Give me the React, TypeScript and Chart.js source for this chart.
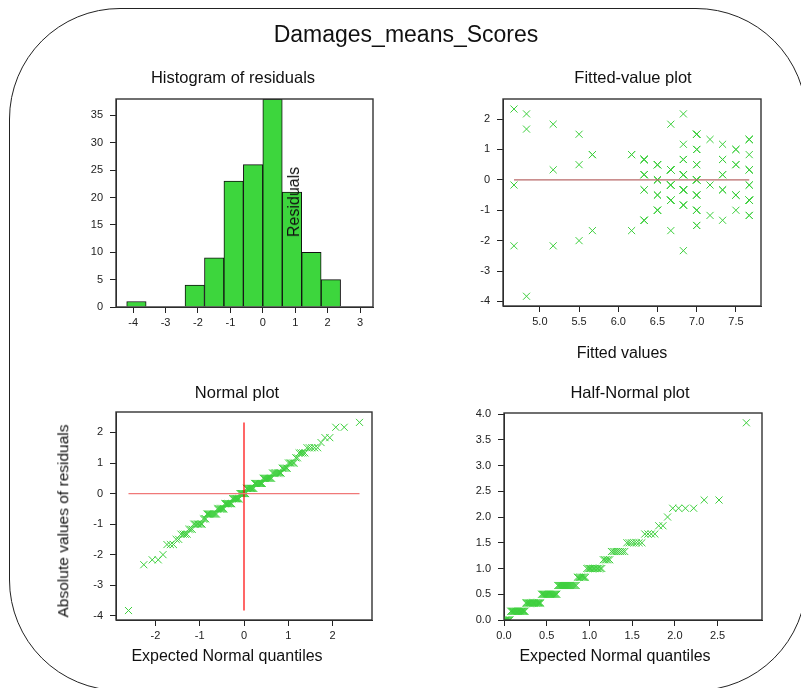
import React, { useEffect, useRef } from "react";
import { Chart, registerables } from "chart.js";
Chart.register(...registerables);

const CHART_TITLE = "Damages_means_Scores";

// ---- Histogram of residuals ----
const histBinCenters = [-3.9, -2.1, -1.5, -0.9, -0.3, 0.3, 0.9, 1.5, 2.1];
const histCounts = [1, 4, 9, 23, 26, 38, 21, 10, 5];
const histXTicks = [-4, -3, -2, -1, 0, 1, 2, 3];
const histYTicks = [0, 5, 10, 15, 20, 25, 30, 35];

// ---- Fitted values / residuals (distinct points with multiplicity) ----
const pointFitted = [
  4.67, 4.83, 6.83, 5.17, 6.67, 4.83, 5.5, 7.0, 7.17, 7.67, 6.83, 7.33, 7.0, 7.5,
  5.67, 6.17, 7.67, 6.33, 6.83, 7.33, 5.5, 6.5, 7.0, 7.5, 5.17, 6.67, 7.67, 6.33,
  6.83, 7.33, 6.5, 7.0, 4.67, 6.67, 7.17, 7.67, 6.33, 6.83, 7.33, 6.5, 7.0, 7.5,
  6.67, 7.67, 6.83, 6.5, 7.0, 7.5, 7.17, 7.67, 6.33, 7.33, 7.0, 5.67, 6.17, 6.67,
  5.5, 4.67, 5.17, 6.83, 4.83,
];
const pointResidual = [
  2.33, 2.17, 2.17, 1.83, 1.83, 1.67, 1.5, 1.5, 1.33, 1.33, 1.17, 1.17, 1.0, 1.0,
  0.83, 0.83, 0.83, 0.67, 0.67, 0.67, 0.5, 0.5, 0.5, 0.5, 0.33, 0.33, 0.33, 0.17,
  0.17, 0.17, 0, 0, -0.17, -0.17, -0.17, -0.17, -0.33, -0.33, -0.33, -0.5, -0.5, -0.5,
  -0.67, -0.67, -0.83, -1.0, -1.0, -1.0, -1.17, -1.17, -1.33, -1.33, -1.5, -1.67, -1.67, -1.67,
  -2.0, -2.17, -2.17, -2.33, -3.83,
];
const pointCount = [
  1, 1, 1, 1, 1, 1, 1, 4, 1, 3, 1, 1, 3, 2,
  2, 2, 1, 4, 3, 2, 1, 5, 2, 2, 1, 6, 3, 3,
  5, 2, 3, 5, 1, 5, 1, 2, 2, 5, 2, 2, 3, 3,
  5, 5, 3, 3, 3, 1, 1, 2, 3, 1, 2, 1, 1, 1,
  1, 1, 1, 1, 1,
];
const fittedXTicks = [5.0, 5.5, 6.0, 6.5, 7.0, 7.5];
const residYTicks = [-4, -3, -2, -1, 0, 1, 2];
const normalXTicks = [-2, -1, 0, 1, 2];
const halfXTicks = [0, 0.5, 1.0, 1.5, 2.0, 2.5];
const halfYTicks = [0, 0.5, 1.0, 1.5, 2.0, 2.5, 3.0, 3.5, 4.0];

const W = 801;
const H = 688;
const FONT = "'Liberation Sans', Arial, Helvetica, sans-serif";
const GREEN = "#3dcf3d";
const BAR_GREEN = "#3dd63d";
const YW = 40;
const XH = 26;

// inverse standard normal CDF (Acklam)
function invNorm(p: number): number {
  const a = [-39.69683028665376, 220.9460984245205, -275.9285104469687, 138.357751867269, -30.66479806614716, 2.506628277459239];
  const b = [-54.47609879822406, 161.5858368580409, -155.6989798598866, 66.80131188771972, -13.28068155288572];
  const c = [-0.007784894002430293, -0.3223964580411365, -2.400758277161838, -2.549732539343734, 4.374664141464968, 2.938163982698783];
  const d = [0.007784695709041462, 0.3224671290700398, 2.445134137142996, 3.754408661907416];
  const pl = 0.02425;
  if (p < pl) {
    const q = Math.sqrt(-2 * Math.log(p));
    return (((((c[0] * q + c[1]) * q + c[2]) * q + c[3]) * q + c[4]) * q + c[5]) / ((((d[0] * q + d[1]) * q + d[2]) * q + d[3]) * q + 1);
  }
  if (p <= 1 - pl) {
    const q = p - 0.5;
    const r = q * q;
    return ((((((a[0] * r + a[1]) * r + a[2]) * r + a[3]) * r + a[4]) * r + a[5]) * q) / (((((b[0] * r + b[1]) * r + b[2]) * r + b[3]) * r + b[4]) * r + 1);
  }
  const q = Math.sqrt(-2 * Math.log(1 - p));
  return -(((((c[0] * q + c[1]) * q + c[2]) * q + c[3]) * q + c[4]) * q + c[5]) / ((((d[0] * q + d[1]) * q + d[2]) * q + d[3]) * q + 1);
}

type Frame = { l: number; t: number; r: number; b: number };
const histFrame: Frame = { l: 116, t: 99, r: 373, b: 307 };
const fittedFrame: Frame = { l: 503, t: 99, r: 761, b: 306 };
const normalFrame: Frame = { l: 116, t: 412, r: 372, b: 620 };
const halfFrame: Frame = { l: 504, t: 413, r: 762, b: 620 };

const framePlugin = {
  id: "frame",
  afterDraw(chart: any) {
    const { ctx, chartArea: a } = chart;
    ctx.save();
    ctx.strokeStyle = "#333";
    ctx.lineWidth = 1.4;
    ctx.strokeRect(a.left, a.top, a.right - a.left, a.bottom - a.top);
    ctx.restore();
  },
};

function axis(kind: "x" | "y", min: number, max: number, values: number[], digits: number) {
  return {
    type: "linear",
    position: kind === "x" ? "bottom" : "left",
    min,
    max,
    offset: false,
    afterBuildTicks: (s: any) => {
      s.ticks = values.map((v) => ({ value: v }));
    },
    afterFit: (s: any) => {
      if (kind === "x") s.height = XH;
      else s.width = YW;
    },
    ticks: {
      callback: (v: any) => Number(v).toFixed(digits),
      font: { family: FONT, size: 11 },
      color: "#222",
      padding: kind === "x" ? 3 : 7,
      autoSkip: false,
      maxRotation: 0,
      minRotation: 0,
    },
    grid: {
      display: true,
      drawOnChartArea: false,
      drawTicks: true,
      tickLength: 6,
      color: "#222",
      lineWidth: 1,
      offset: false,
    },
    border: { display: true, color: "#222", width: 1 },
  };
}

function layoutFor(f: Frame) {
  return {
    padding: { left: f.l - YW, top: f.t, right: W - f.r, bottom: H - f.b - XH },
  };
}

const baseOpts = {
  responsive: false,
  animation: false,
  events: [],
  plugins: { legend: { display: false }, tooltip: { enabled: false }, title: { display: false } },
};

function expandPoints() {
  const pts: { x: number; y: number }[] = [];
  pointFitted.forEach((fx, i) => {
    for (let k = 0; k < pointCount[i]; k++) pts.push({ x: fx, y: pointResidual[i] });
  });
  return pts;
}

function crossDataset(data: { x: number; y: number }[]) {
  return {
    data,
    showLine: false,
    pointStyle: "crossRot",
    pointRadius: 5,
    pointBorderColor: GREEN,
    pointBackgroundColor: "rgba(0,0,0,0)",
    pointBorderWidth: 1,
    order: 2,
  };
}

function lineDataset(data: { x: number; y: number }[], color: string) {
  return {
    data,
    showLine: true,
    borderColor: color,
    borderWidth: 1.2,
    pointRadius: 0,
    fill: false,
    order: 0,
  };
}

const Text: React.FC<{ x: number; y: number; size: number; rotate?: boolean; children: React.ReactNode }> = ({ x, y, size, rotate, children }) => (
  <div
    style={{
      position: "absolute",
      left: x,
      top: y,
      transform: `translate(-50%, -50%)${rotate ? " rotate(-90deg)" : ""}`,
      fontFamily: FONT,
      fontSize: size,
      lineHeight: 1,
      whiteSpace: "nowrap",
      color: "#111",
      pointerEvents: "none",
    }}
  >
    {children}
  </div>
);

export default function App() {
  const r1 = useRef<HTMLCanvasElement>(null);
  const r2 = useRef<HTMLCanvasElement>(null);
  const r3 = useRef<HTMLCanvasElement>(null);
  const r4 = useRef<HTMLCanvasElement>(null);

  useEffect(() => {
    const charts: Chart[] = [];

    // Histogram
    charts.push(
      new Chart(r1.current!, {
        type: "bar",
        data: {
          datasets: [
            {
              data: histBinCenters.map((c, i) => ({ x: c, y: histCounts[i] })),
              backgroundColor: BAR_GREEN,
              borderColor: "#111",
              borderWidth: 1,
              barPercentage: 1,
              categoryPercentage: 1,
            } as any,
          ],
        },
        options: {
          ...baseOpts,
          layout: layoutFor(histFrame),
          scales: {
            x: axis("x", -4.53, 3.4, histXTicks, 0),
            y: axis("y", 0, 38, histYTicks, 0),
          },
        } as any,
        plugins: [framePlugin],
      })
    );

    // Fitted-value plot
    const pts = expandPoints();
    const fMin = Math.min(...pointFitted);
    const fMax = Math.max(...pointFitted);
    charts.push(
      new Chart(r2.current!, {
        type: "scatter",
        data: {
          datasets: [
            crossDataset(pts) as any,
            lineDataset([{ x: fMin, y: 0 }, { x: fMax, y: 0 }], "#b86868") as any,
          ],
        },
        options: {
          ...baseOpts,
          layout: layoutFor(fittedFrame),
          scales: {
            x: axis("x", 4.53, 7.82, fittedXTicks, 1),
            y: axis("y", -4.15, 2.66, residYTicks, 0),
          },
        } as any,
        plugins: [framePlugin],
      })
    );

    // Normal plot
    const residuals: number[] = [];
    pointResidual.forEach((r, i) => {
      for (let k = 0; k < pointCount[i]; k++) residuals.push(r);
    });
    const sorted = [...residuals].sort((a, b) => a - b);
    const n = sorted.length;
    const normalPts = sorted.map((r, i) => ({ x: invNorm((i + 1 - 0.375) / (n + 0.25)), y: r }));
    const nxMin = normalPts[0].x;
    const nxMax = normalPts[n - 1].x;
    charts.push(
      new Chart(r3.current!, {
        type: "scatter",
        data: {
          datasets: [
            crossDataset(normalPts) as any,
            lineDataset([{ x: nxMin, y: 0 }, { x: nxMax, y: 0 }], "#f07878") as any,
            lineDataset([{ x: 0, y: sorted[0] }, { x: 0, y: sorted[n - 1] }], "#ff0000") as any,
          ],
        },
        options: {
          ...baseOpts,
          layout: layoutFor(normalFrame),
          scales: {
            x: axis("x", -2.89, 2.89, normalXTicks, 0),
            y: axis("y", -4.14, 2.67, residYTicks, 0),
          },
        } as any,
        plugins: [framePlugin],
      })
    );

    // Half-normal plot
    const absSorted = residuals.map((v) => Math.abs(v)).sort((a, b) => a - b);
    const halfPts = absSorted.map((r, i) => ({ x: invNorm(0.5 + 0.5 * ((i + 1 - 0.375) / (n + 0.25))), y: r }));
    charts.push(
      new Chart(r4.current!, {
        type: "scatter",
        data: { datasets: [crossDataset(halfPts) as any] },
        options: {
          ...baseOpts,
          layout: layoutFor(halfFrame),
          scales: {
            x: axis("x", 0, 3.02, halfXTicks, 1),
            y: axis("y", 0, 4.02, halfYTicks, 1),
          },
        } as any,
        plugins: [framePlugin],
      })
    );

    return () => charts.forEach((c) => c.destroy());
  }, []);

  const canvasStyle: React.CSSProperties = { position: "absolute", left: 0, top: 0, width: W, height: H };

  return (
    <div
      style={{
        position: "absolute",
        left: 0,
        top: 0,
        width: W,
        height: H,
        overflow: "hidden",
        background: "#fff",
      }}
    >
      <div
        style={{
          position: "absolute",
          left: 9,
          top: 8,
          width: 798,
          height: 683,
          boxSizing: "border-box",
          border: "1.2px solid #222",
          borderRadius: 111,
        }}
      />
      <canvas ref={r1} width={W} height={H} style={canvasStyle} />
      <canvas ref={r2} width={W} height={H} style={canvasStyle} />
      <canvas ref={r3} width={W} height={H} style={canvasStyle} />
      <canvas ref={r4} width={W} height={H} style={canvasStyle} />

      <Text x={406} y={34} size={23}>{CHART_TITLE}</Text>
      <Text x={233} y={77} size={16.5}>Histogram of residuals</Text>
      <Text x={633} y={77} size={16.5}>Fitted-value plot</Text>
      <Text x={237} y={392} size={16.5}>Normal plot</Text>
      <Text x={630} y={392} size={16.5}>Half-Normal plot</Text>
      <Text x={622} y={353} size={16}>Fitted values</Text>
      <Text x={227} y={656} size={16}>Expected Normal quantiles</Text>
      <Text x={615} y={656} size={16}>Expected Normal quantiles</Text>
      <Text x={62.5} y={521} size={15.5} rotate>Absolute values of residuals</Text>
      <Text x={294} y={202} size={16} rotate>Residuals</Text>
    </div>
  );
}
